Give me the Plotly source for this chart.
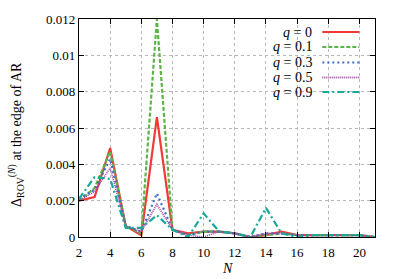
import plotly.graph_objects as go

N = list(range(2, 22))
q0 = [0.0020, 0.0022, 0.0049, 0.0006, 0.0001, 0.0066, 0.0004, 0.0002, 0.0003, 0.0003,
      0.0002, 0.0000, 0.0001, 0.0003, 0.0001, 0.0001, 0.0001, 0.0001, 0.0001, 0.0000]
q01 = [0.0020, 0.0027, 0.0047, 0.0006, 0.0002, 0.0120, 0.0004, 0.0001, 0.0003, 0.0003,
       0.0002, 0.0000, 0.0001, 0.0002, 0.0001, 0.0001, 0.0001, 0.0001, 0.0001, 0.0000]
q03 = [0.0021, 0.0026, 0.0043, 0.0006, 0.0003, 0.0024, 0.0004, 0.0001, 0.0003, 0.0003,
       0.0002, 0.0000, 0.0002, 0.0002, 0.0001, 0.0001, 0.0001, 0.0001, 0.0001, 0.0000]
q05 = [0.0020, 0.0025, 0.0038, 0.0006, 0.0003, 0.0018, 0.0004, 0.0001, 0.0000, 0.0003,
       0.0002, 0.0000, 0.0002, 0.0002, 0.0001, 0.0001, 0.0001, 0.0001, 0.0001, 0.0000]
q09 = [0.0021, 0.0033, 0.0032, 0.0005, 0.0005, 0.0012, 0.0004, 0.0000, 0.0013, 0.0003,
       0.0002, 0.0000, 0.0016, 0.0002, 0.0000, 0.0001, 0.0001, 0.0001, 0.0001, 0.0000]

labels = ["<i>q</i> = 0", "<i>q</i> = 0.1", "<i>q</i> = 0.3", "<i>q</i> = 0.5", "<i>q</i> = 0.9"]
series = [q0, q01, q03, q05, q09]
colors = ["#f03a3a", "#5ab446", "#3f6fc4", "#a03ca8", "#1aa898"]
dashes = ["solid", "4px,2px", "2px,3px", "1px,1px", "7px,3px,2px,3px"]
widths = [2.2, 2.2, 2.2, 1.6, 2.2]

xticks = [2, 4, 6, 8, 10, 12, 14, 16, 18, 20]
yticks = [0, 0.002, 0.004, 0.006, 0.008, 0.01, 0.012]
yticktext = ["0", "0.002", "0.004", "0.006", "0.008", "0.01", "0.012"]

FONT = "Liberation Serif"

fig = go.Figure()
for s, c, d, w, lab in zip(series, colors, dashes, widths, labels):
    fig.add_trace(go.Scatter(x=N, y=s, mode="lines", name=lab,
                             line=dict(color=c, dash=d, width=w), showlegend=False))

# legend box (custom, text left of sample)
fig.add_shape(type="rect", xref="paper", yref="paper", x0=0.58, x1=0.985, y0=0.64, y1=0.99,
              fillcolor="white", line=dict(width=0), layer="below")
ys = [0.94, 0.872, 0.80, 0.732, 0.665]
for lab, c, d, yy in zip(labels, colors, dashes, ys):
    fig.add_annotation(xref="paper", yref="paper", x=0.795, y=yy, text=lab, showarrow=False,
                       xanchor="right", yanchor="middle",
                       font=dict(family=FONT, size=14, color="black"))
    fig.add_shape(type="line", xref="paper", yref="paper", x0=0.822, x1=0.947, y0=yy, y1=yy,
                  line=dict(color=c, dash=d, width=2))

# y-axis title as rotated annotation
fig.add_annotation(xref="paper", yref="paper", x=-0.215, y=0.47, showarrow=False,
                   text="Δ<sub>ROV</sub><sup>(<i>N</i>)</sup> at the edge of AR", textangle=-90,
                   xanchor="center", yanchor="middle",
                   font=dict(family=FONT, size=14, color="black"))

axis_common = dict(showline=True, linecolor="black", linewidth=1.3, mirror="ticks",
                   ticks="inside", ticklen=5, tickcolor="black", tickwidth=1,
                   showgrid=True, gridcolor="#b8b8b8", griddash="dot", gridwidth=1,
                   zeroline=False,
                   tickfont=dict(family=FONT, size=13, color="black"))

fig.update_xaxes(range=[2, 21], tickvals=xticks, ticktext=[str(v) for v in xticks],
                 ticklabelstandoff=3,
                 **axis_common)
fig.update_yaxes(range=[0, 0.012], tickvals=yticks, ticktext=yticktext, **axis_common)

# x-axis title as annotation
fig.add_annotation(xref="paper", yref="paper", x=0.5, y=-0.145, showarrow=False,
                   text="<i>N</i>", xanchor="center", yanchor="middle",
                   font=dict(family=FONT, size=14, color="black"))

fig.update_layout(width=399, height=279, margin=dict(l=79, r=24, t=15, b=42),
                  plot_bgcolor="white", paper_bgcolor="white",
                  font=dict(family=FONT))

fig.write_html("out.html", config={"displayModeBar": False},
               post_script="document.body.style.margin='0';")
